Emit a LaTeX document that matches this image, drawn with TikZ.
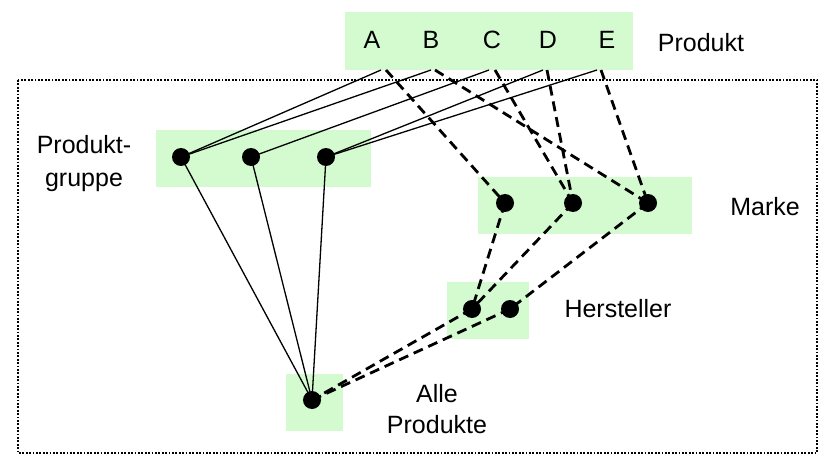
\documentclass[tikz,border=0pt]{standalone}
\usepackage{fontspec}
\setmainfont{Liberation Sans}
\definecolor{boxgreen}{HTML}{D4FBD0}
\begin{document}
\begin{tikzpicture}[x=1pt,y=-1pt,
  grp/.style={fill=boxgreen,draw=none},
  dotnode/.style={circle,fill=black,inner sep=0pt,minimum size=18pt},
  solidln/.style={line width=1.3pt},
  dashln/.style={line width=2.8pt,dash pattern=on 10pt off 6pt},
  lbl/.style={font=\fontsize{25}{31}\selectfont,inner sep=0pt,align=center,anchor=base},
  letter/.style={font=\fontsize{25}{31}\selectfont,inner sep=0pt,anchor=base}]
\useasboundingbox (0,0) rectangle (838,468);
% frame
\draw[line width=1.6pt,dash pattern=on 1.8pt off 1.6pt] (18,80) rectangle (817,453);
% green groups
\fill[grp] (345,12) rectangle (633,70);
\fill[grp] (156,130) rectangle (371,187);
\fill[grp] (478,177) rectangle (692,234);
\fill[grp] (447,282) rectangle (529,339);
\fill[grp] (286,374) rectangle (343,431);
% letters
\node[letter] (A) at (372,49) {A};
\node[letter] (B) at (431,49) {B};
\node[letter] (C) at (492,49) {C};
\node[letter] (D) at (548,49) {D};
\node[letter] (E) at (607,49) {E};
% connector ends at product box
\coordinate (sA) at (381,70); \coordinate (dA) at (386,70);
\coordinate (sB) at (431,70); \coordinate (dB) at (435,70);
\coordinate (sC) at (489,70); \coordinate (dC) at (495,70);
\coordinate (sD) at (543,70); \coordinate (dD) at (547,70);
\coordinate (sE) at (597,70); \coordinate (dE) at (601,70);
% node centres
\coordinate (g1) at (181,157);
\coordinate (g2) at (251,157);
\coordinate (g3) at (326,157);
\coordinate (m1) at (505,203);
\coordinate (m2) at (573,203);
\coordinate (m3) at (648,203);
\coordinate (h1) at (472,309);
\coordinate (h2) at (510,309);
\coordinate (ap) at (312,400);
% solid connectors
\draw[solidln] (g1) -- (sA);
\draw[solidln] (g1) -- (sB);
\draw[solidln] (g2) -- (sC);
\draw[solidln] (g3) -- (sD);
\draw[solidln] (g3) -- (sE);
\draw[solidln] (g1) -- (ap);
\draw[solidln] (g2) -- (ap);
\draw[solidln] (g3) -- (ap);
% dashed connectors
\draw[dashln] (dA) -- (m1);
\draw[dashln] (dB) -- (m3);
\draw[dashln] (dC) -- (m2);
\draw[dashln] (dD) -- (m2);
\draw[dashln] (dE) -- (m3);
\draw[dashln] (m1) -- (h1);
\draw[dashln] (m2) -- (h1);
\draw[dashln] (m3) -- (h2);
\draw[dashln] (h1) -- (ap);
\draw[dashln] (h2) -- (ap);
% dots
\foreach \p in {g1,g2,g3,m1,m2,m3,h1,h2,ap} \node[dotnode] (n\p) at (\p) {};
% labels
\node[lbl] (lprod) at (701,52) {Produkt};
\node[lbl,font=\fontsize{25}{33}\selectfont] (lgrp) at (84,186) {Produkt-\\gruppe};
\node[lbl] (lmarke) at (765,215) {Marke};
\node[lbl] (lherst) at (618,317) {Hersteller};
\node[lbl] (lalle) at (437,433) {Alle\\Produkte};
\end{tikzpicture}
\end{document}
